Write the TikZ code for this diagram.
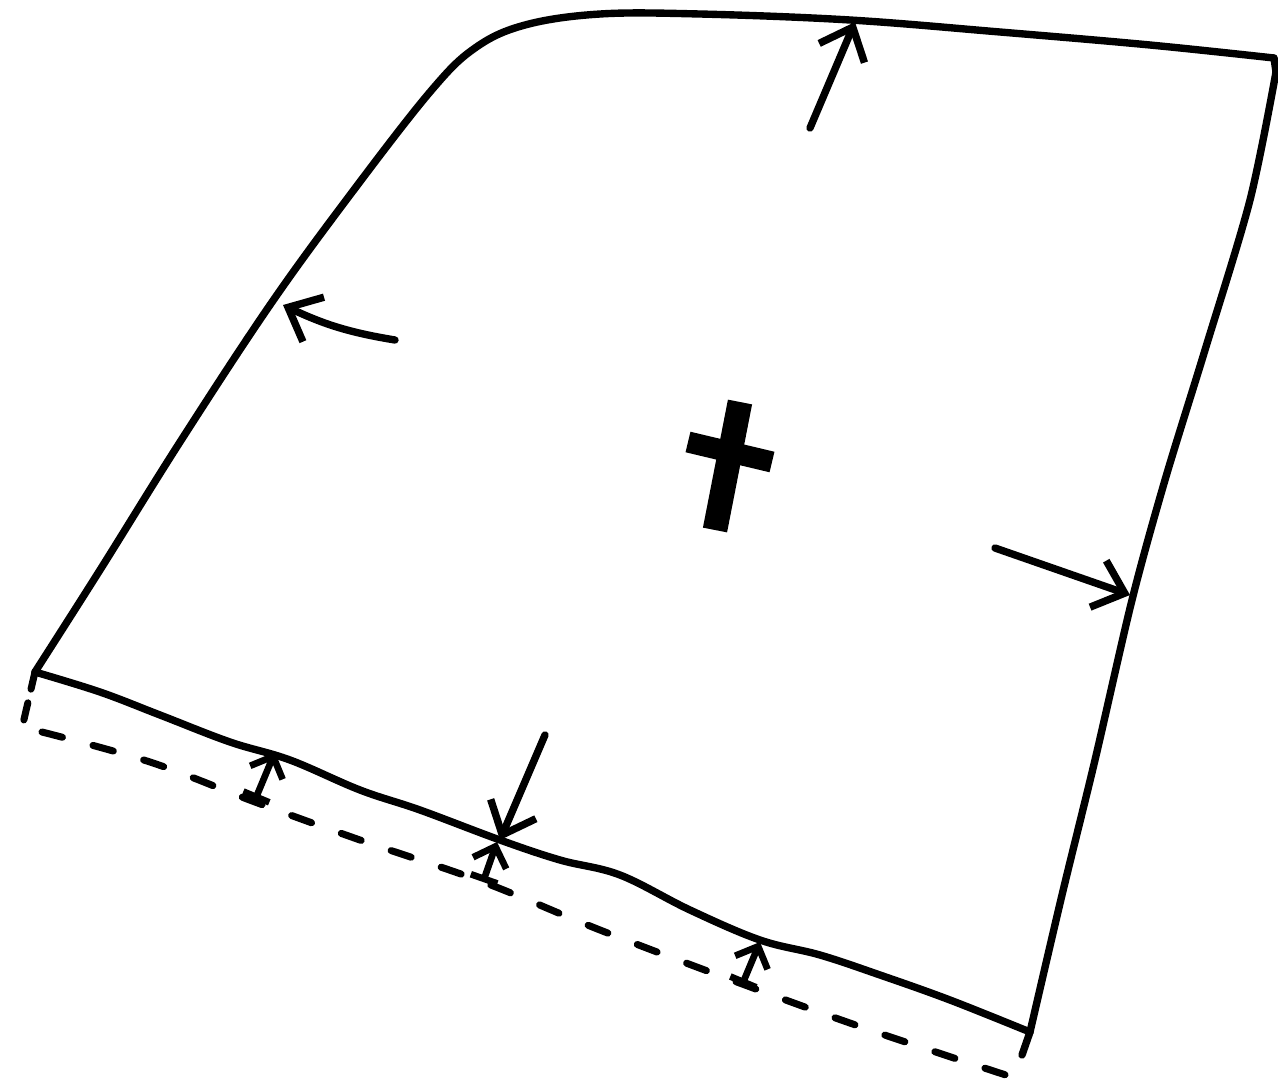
\documentclass[tikz,border=0pt]{standalone}
\usepackage{tikz}
\usetikzlibrary{arrows.meta}

\begin{document}
\begin{tikzpicture}[
  x=1cm, y=1cm,
  line cap=round, line join=round,
  edge/.style={line width=2.1pt, black},
  offset/.style={line width=2pt, black, dash pattern=on 6pt off 9pt},
  push/.style={line width=2.1pt, -{Straight Barb[length=8pt, width=14pt, line width=2.1pt]}},
  gap/.style={line width=1.9pt, {Bar[width=8pt, line width=1.9pt]}-{Straight Barb[length=5pt, width=10pt, line width=1.9pt]}},
  crossbar/.style={line width=7pt, line cap=butt},
]
  \useasboundingbox (0,0) rectangle (12.78,-10.85);

  % Corners of the outline
  \coordinate (bl) at (0.35,-6.72);
  \coordinate (tr) at (12.74,-0.58);
  \coordinate (br) at (10.30,-10.32);

  % Outline: left edge with rounded top-left corner and top edge
  \draw[edge] plot[smooth, tension=0.6] coordinates {
    (0.35,-6.72) (1.00,-5.70) (1.80,-4.42) (2.70,-3.05) (3.50,-1.95)
    (4.30,-0.92) (4.75,-0.48) (5.25,-0.25) (6.00,-0.14) (7.00,-0.14)
    (8.50,-0.20) (10.00,-0.32) (11.50,-0.45) (12.74,-0.58)};

  % Right edge
  \draw[edge] (tr) -- (12.76,-0.72);
  \draw[edge] plot[smooth, tension=0.5] coordinates {
    (12.76,-0.72) (12.50,-2.00) (12.05,-3.50) (11.65,-4.80)
    (11.32,-6.00) (10.95,-7.60) (10.62,-8.95) (10.30,-10.32)};

  % Bottom edge
  \draw[edge] plot[smooth, tension=0.6] coordinates {
    (0.35,-6.72) (1.00,-6.92) (1.60,-7.15) (2.30,-7.42) (2.90,-7.60)
    (3.60,-7.90) (4.20,-8.10) (5.00,-8.40) (5.60,-8.60) (6.20,-8.75)
    (6.90,-9.10) (7.60,-9.40) (8.20,-9.55) (8.80,-9.75) (9.50,-10.00)
    (10.30,-10.32)};

  % Offset outline (dashed)
  \coordinate (dl) at (0.22,-7.28);
  \coordinate (dr) at (10.15,-10.78);
  \draw[offset, dash pattern=on 5pt off 4pt] (bl) -- (dl);
  \draw[offset] plot[smooth, tension=0.6] coordinates {
    (0.42,-7.32) (1.50,-7.62) (2.55,-8.02) (3.60,-8.40) (4.83,-8.82)
    (6.00,-9.30) (7.45,-9.85) (8.70,-10.30) (10.15,-10.78)};
  \draw[edge] (br) -- (10.22,-10.55);

  % Outward arrows
  \coordinate (t0) at (8.10,-1.28);
  \coordinate (t1) at (8.55,-0.22);
  \coordinate (l0) at (3.95,-3.40);
  \coordinate (l1) at (2.83,-3.05);
  \coordinate (r0) at (9.95,-5.48);
  \coordinate (r1) at (11.30,-5.95);
  \coordinate (b0) at (5.45,-7.35);
  \coordinate (b1) at (5.00,-8.40);
  \draw[push] (t0) -- (t1);
  \draw[push] (l0) to[bend left=8] (l1);
  \draw[push] (r0) -- (r1);
  \draw[push] (b0) -- (b1);

  % Gap arrows between dashed and solid outline
  \coordinate (g1a) at (2.55,-8.00);
  \coordinate (g1b) at (2.75,-7.52);
  \coordinate (g2a) at (4.83,-8.82);
  \coordinate (g2b) at (4.97,-8.42);
  \coordinate (g3a) at (7.42,-9.85);
  \coordinate (g3b) at (7.60,-9.42);
  \draw[gap] (g1a) -- (g1b);
  \draw[gap] (g2a) -- (g2b);
  \draw[gap] (g3a) -- (g3b);

  % Centre mark
  \coordinate (cv0) at (7.40,-4.02);
  \coordinate (cv1) at (7.15,-5.30);
  \coordinate (ch0) at (6.88,-4.42);
  \coordinate (ch1) at (7.72,-4.62);
  \draw[crossbar] (cv0) -- (cv1);
  \draw[crossbar, line width=6pt] (ch0) -- (ch1);
\end{tikzpicture}
\end{document}
